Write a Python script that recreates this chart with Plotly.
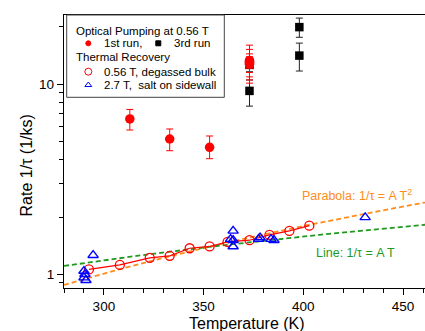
import numpy as np
import plotly.graph_objects as go

# ---------------- data ----------------
# Optical pumping at 0.56 T, 1st run (red filled circles)
op1_T = [313, 333, 353, 373, 373, 373, 373, 373]
op1_rate = [6.55, 5.14, 4.65, 13.3, 13.1, 13.0, 12.9, 12.7]
op1_err_plus = [0.8, 0.66, 0.68, 2.7, 2.1, 0.9, 1.5, 1.0]
op1_err_minus = [0.82, 0.68, 0.6, 3.2, 2.6, 0.9, 2.0, 1.2]

# Optical pumping at 0.56 T, 3rd run (black squares)
op3_T = [373, 373, 398, 398]
op3_rate = [12.6, 9.2, 19.9, 14.1]
op3_err_plus = [1.0, 1.3, 2.3, 2.3]
op3_err_minus = [1.0, 1.55, 2.3, 2.4]

# Thermal recovery 0.56 T, degassed bulk (red open circles)
tr1_T = [292.5, 308, 323, 333, 343, 353, 362, 373, 383, 393, 403]
tr1_rate = [1.06, 1.12, 1.22, 1.25, 1.37, 1.40, 1.48, 1.51, 1.61, 1.69, 1.80]

# Thermal recovery 2.7 T, salt on sidewall (blue open triangles)
tr2_T = [290, 290.5, 290, 291, 294.6, 364.8, 364.8, 364.8, 363.5, 378.3, 377.5,
         383.8, 385.3, 431]
tr2_rate = [1.04, 1.0, 0.96, 0.93, 1.26, 1.69, 1.51, 1.40, 1.53, 1.56, 1.53,
            1.53, 1.51, 1.99]

# fits
A_parabola = 1.121e-5   # 1/tau = A T^2
A_line = 0.00395        # 1/tau = A T
fit_T = np.linspace(280, 461, 200)

x_ticks = [300, 350, 400, 450]
y_ticks = [1, 10]
y_minor = [0.9, 2, 3, 4, 5, 6, 7, 8, 9, 20]

# ---------------- layout geometry ----------------
W, H = 425, 331
ML, MT, MR, MB = 64, 15, 0, 43
PW, PH = W - ML - MR, H - MT - MB


def px(xp):
    return (xp - ML) / PW


def py(yp):
    return (H - MB - yp) / PH


FONT = "Liberation Sans, Arial, sans-serif"
RED = "#ff0000"
BLUE = "#0000ff"
ORANGE = "#ff8c1a"
GREEN = "#1f9a1f"

fig = go.Figure()

fig.add_trace(go.Scatter(x=fit_T, y=A_parabola * fit_T ** 2, mode="lines",
                         line=dict(color=ORANGE, width=1.8, dash="5px,3px"),
                         showlegend=False, hoverinfo="skip"))
fig.add_trace(go.Scatter(x=fit_T, y=A_line * fit_T, mode="lines",
                         line=dict(color=GREEN, width=1.8, dash="5px,3px"),
                         showlegend=False, hoverinfo="skip"))

fig.add_trace(go.Scatter(x=tr1_T, y=tr1_rate, mode="lines+markers",
                         line=dict(color=RED, width=1.2),
                         marker=dict(symbol="circle-open", size=9, color=RED,
                                     line=dict(width=1.3, color=RED)),
                         showlegend=False))
fig.add_trace(go.Scatter(x=tr2_T, y=tr2_rate, mode="markers",
                         marker=dict(symbol="triangle-up-open", size=9, color=BLUE,
                                     line=dict(width=1.4, color=BLUE)),
                         showlegend=False))

fig.add_trace(go.Scatter(x=op3_T, y=op3_rate, mode="markers",
                         marker=dict(symbol="square", size=8.5, color="black"),
                         error_y=dict(type="data", symmetric=False,
                                      array=op3_err_plus, arrayminus=op3_err_minus,
                                      color="#222222", thickness=1, width=3.5),
                         showlegend=False))
fig.add_trace(go.Scatter(x=op1_T, y=op1_rate, mode="markers",
                         marker=dict(symbol="circle", size=9.5, color=RED),
                         error_y=dict(type="data", symmetric=False,
                                      array=op1_err_plus, arrayminus=op1_err_minus,
                                      color=RED, thickness=1, width=3.5),
                         showlegend=False))

# legend markers on an overlay axis aligned with the plot area (0..1)
leg_x = [px(88.3), px(158.3), px(88.3), px(88.3)]
leg_y = [py(43.3), py(43.3), py(71.7), py(85)]
leg_sym = ["circle", "square", "circle-open", "triangle-up-open"]
leg_col = [RED, "black", RED, BLUE]
leg_size = [5, 5, 7, 6]
for xx, yy, s, c, sz in zip(leg_x, leg_y, leg_sym, leg_col, leg_size):
    fig.add_trace(go.Scatter(x=[xx], y=[yy], xaxis="x2", yaxis="y2", mode="markers",
                             marker=dict(symbol=s, size=sz, color=c,
                                         line=dict(width=1, color=c)),
                             showlegend=False, hoverinfo="skip"))

ann = []
def txt(x, y, t, size=11.5, color="black", xanchor="left", yanchor="middle", angle=0):
    ann.append(dict(x=x, y=y, xref="paper", yref="paper", text=t, showarrow=False,
                    xanchor=xanchor, yanchor=yanchor, textangle=angle,
                    font=dict(family=FONT, size=size, color=color)))

txt(px(74), py(30.7), "Optical Pumping at 0.56 T")
txt(px(101.7), py(43.3), "1st run,")
txt(px(171.7), py(43.3), "3rd run")
txt(px(74), py(57.3), "Thermal Recovery")
txt(px(101.7), py(71.7), "0.56 T, degassed bulk")
txt(px(101.7), py(85), "2.7 T,\u00a0 salt on sidewall")

txt(px(414), py(195), "Parabola: 1/τ = A T<sup>2</sup>", size=12.5, color=ORANGE,
    xanchor="right")
txt(px(397), py(253), "Line: 1/τ = A T", size=12.5, color=GREEN, xanchor="right")

txt(px(247), py(323), "Temperature (K)", size=16, xanchor="center")
txt(px(25.5), py(166), "Rate 1/τ (1/ks)", size=16, xanchor="center", angle=-90)

fig.update_layout(
    width=W, height=H,
    margin=dict(l=ML, r=MR, t=MT, b=MB),
    paper_bgcolor="white", plot_bgcolor="white",
    font=dict(family=FONT, size=13.5, color="black"),
    annotations=ann,
    shapes=[dict(type="rect", xref="paper", yref="paper",
                 x0=px(66.7), x1=px(224.3), y0=py(97.3), y1=py(15),
                 line=dict(color="#444444", width=1), fillcolor="rgba(0,0,0,0)")],
    xaxis=dict(range=[280, 461], tickvals=x_ticks, ticks="outside", ticklen=6,
               tickwidth=1, tickcolor="black", showline=True, linecolor="black",
               linewidth=1.3, mirror=True, showgrid=False, zeroline=False,
               minor=dict(dtick=10, tick0=280, ticks="outside", ticklen=3.5,
                          tickcolor="black", showgrid=False),
               tickfont=dict(size=13.5)),
    yaxis=dict(type="log", range=[np.log10(0.847), 1.3626], tickvals=y_ticks,
               ticks="outside", ticklen=6, tickwidth=1, tickcolor="black",
               showline=True, linecolor="black", linewidth=1.3, mirror=False,
               showgrid=False, zeroline=False,
               minor=dict(tickvals=y_minor, ticks="outside", ticklen=3.5,
                          tickcolor="black", showgrid=False),
               tickfont=dict(size=13.5)),
    xaxis2=dict(overlaying="x", range=[0, 1], visible=False, domain=[0, 1]),
    yaxis2=dict(overlaying="y", range=[0, 1], visible=False, domain=[0, 1]),
    showlegend=False,
)

fig.write_html("out.html")
